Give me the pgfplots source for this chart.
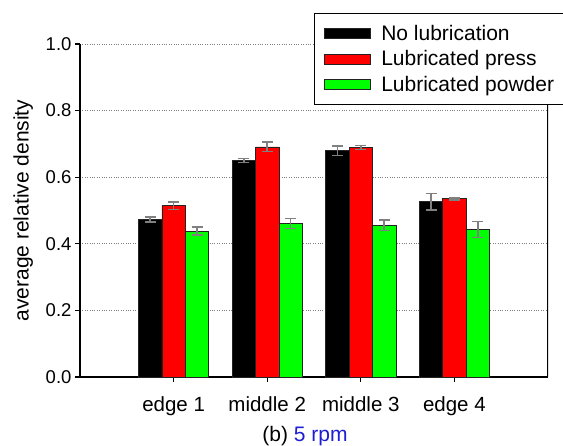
\documentclass[border=0pt]{standalone}
\usepackage{fontspec}
\setmainfont{Liberation Sans}
\usepackage{pgfplots}
\usepackage{pgfplotstable}
\pgfplotsset{compat=1.18}
\definecolor{capblue}{RGB}{30,30,210}
\definecolor{errgray}{RGB}{128,128,128}
\definecolor{bargreen}{RGB}{0,255,0}
\definecolor{barred}{RGB}{255,0,0}
\definecolor{edgec}{RGB}{35,35,35}

\pgfplotstableread{
x a ea
0 0.473 0.007
1 0.650 0.006
2 0.679 0.014
3 0.526 0.025
}\nolub
\pgfplotstableread{
x a ea
0 0.514 0.011
1 0.691 0.014
2 0.689 0.006
3 0.535 0.003
}\lubpress
\pgfplotstableread{
x a ea
0 0.438 0.012
1 0.461 0.015
2 0.456 0.016
3 0.443 0.024
}\lubpowder

\begin{document}
\begin{tikzpicture}
\begin{axis}[
  scale only axis, width=468pt, height=333pt,
  xmin=-1, xmax=4, ymin=0, ymax=1,
  axis x line*=bottom, axis y line*=left,
  axis line style={line width=1.3pt, black},
  xtick={0,1,2,3}, xticklabels={edge 1, middle 2, middle 3, edge 4},
  ytick={0,0.2,0.4,0.6,0.8,1.0},
  yticklabel style={font=\fontsize{18.5}{20}\selectfont,
    /pgf/number format/fixed, /pgf/number format/fixed zerofill, /pgf/number format/precision=1},
  /pgf/number format/assume math mode=true,
  tick align=outside, major tick length=5pt,
  tick style={line width=1.3pt, black},
  xticklabel style={font=\fontsize{20.5}{22}\selectfont, yshift=-11pt},
  ymajorgrids, grid style={dotted, line width=0.9pt, gray},
  ylabel={average relative density},
  ylabel style={font=\fontsize{21}{24}\selectfont, yshift=6pt},
  xlabel={(b) \textcolor{capblue}{5 rpm}},
  xlabel style={font=\fontsize{21}{24}\selectfont, yshift=-4pt, xshift=-9pt},
  ybar=0pt, bar width=0.25,
  legend image code/.code={\draw[#1, line width=0.8pt] (0pt,-5pt) rectangle (46pt,5pt);},
  legend style={at={(0.5,1.093)}, anchor=north west, draw=black, line width=1pt, fill=white,
    font=\fontsize{21}{24}\selectfont, row sep=4.5pt, inner xsep=9pt, inner ysep=10pt,
    /tikz/every odd column/.append style={column sep=9pt}},
  legend cell align=left,
]
\addplot[draw=edgec, line width=0.8pt, fill=black,
  error bars/.cd, y dir=both, y explicit,
  error bar style={errgray, line width=1.5pt},
  error mark options={rotate=90, errgray, mark size=5.5pt, line width=1.5pt}]
  table[x=x, y=a, y error=ea] {\nolub};
\addlegendentry{No lubrication}
\addplot[draw=edgec, line width=0.8pt, fill=barred,
  error bars/.cd, y dir=both, y explicit,
  error bar style={errgray, line width=1.5pt},
  error mark options={rotate=90, errgray, mark size=5.5pt, line width=1.5pt}]
  table[x=x, y=a, y error=ea] {\lubpress};
\addlegendentry{Lubricated press}
\addplot[draw=edgec, line width=0.8pt, fill=bargreen,
  error bars/.cd, y dir=both, y explicit,
  error bar style={errgray, line width=1.5pt},
  error mark options={rotate=90, errgray, mark size=5.5pt, line width=1.5pt}]
  table[x=x, y=a, y error=ea] {\lubpowder};
\addlegendentry{Lubricated powder}
\draw[line width=1.3pt, black] (rel axis cs:1,0) -- (rel axis cs:1,1);
\coordinate (bl) at (rel axis cs:0,0);
\coordinate (tr) at (rel axis cs:1,1);
\end{axis}
\pgfresetboundingbox
\path ([shift={(-80pt,-68pt)}]bl) rectangle ([shift={(15pt,44pt)}]tr);
\end{tikzpicture}
\end{document}
